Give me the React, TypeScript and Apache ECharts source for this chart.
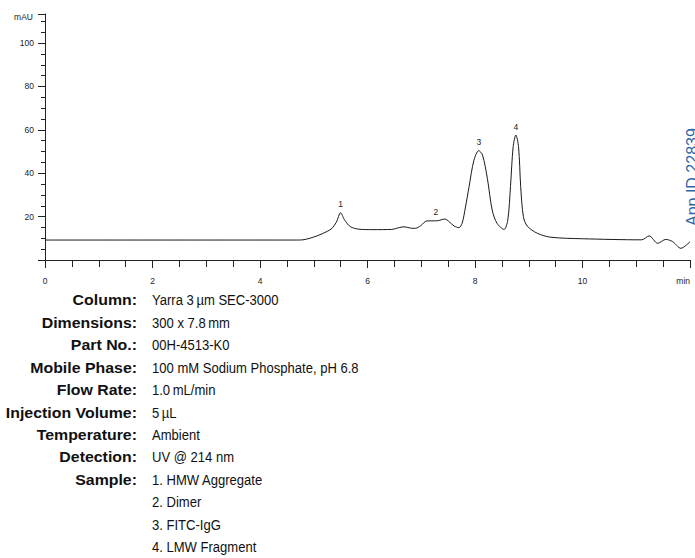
import React, { useEffect, useRef } from "react";
import * as echarts from "echarts";

// Chromatogram trace (retention time in min, absorbance in mAU)
const retentionTimes = [
  0, 4.7, 4.8, 5.06, 5.25, 5.34, 5.42, 5.5, 5.57, 5.68, 5.84, 6.1, 6.45, 6.6, 6.68, 6.8, 6.89, 6.99,
  7.1, 7.3, 7.44, 7.52, 7.61, 7.7, 7.76, 7.82, 7.89, 7.98, 8.07, 8.14, 8.23, 8.32, 8.41, 8.54, 8.61,
  8.66, 8.71, 8.76, 8.81, 8.85, 8.9, 8.97, 9.16, 9.41, 10.0, 11.1, 11.24, 11.4, 11.55, 11.68, 11.83, 12.0,
];
const absorbance = [
  9.2, 9.2, 9.3, 11.1, 13.2, 14.6, 17.4, 21.8, 18.6, 15.4, 14.2, 14.0, 14.1, 15.0, 15.3, 14.7, 14.6, 15.8,
  18.0, 18.1, 18.9, 17.6, 15.7, 14.9, 16.9, 24.0, 33.8, 46.0, 50.4, 48.4, 37.6, 23.0, 16.9, 14.1, 18.4,
  33.8, 52.2, 57.6, 52.2, 33.8, 20.0, 15.7, 12.3, 10.5, 9.8, 9.3, 11.1, 7.7, 9.5, 8.4, 5.4, 8.4,
];

// Peak annotations
const peakNames = ["1", "2", "3", "4"];
const peakTimes = [5.5, 7.27, 8.07, 8.76];
const peakHeights = [21.8, 18.3, 50.4, 57.6];

// Axis ticks
const xTickValues = [0, 2, 4, 6, 8, 10, 12];
const xTickLabels = ["0", "2", "4", "6", "8", "10", "min"];
const yTickValues = [20, 40, 60, 80, 100];
const yUnit = "mAU";
const appId = "App ID 22839";

// Conditions
const conditionLabels = [
  "Column:",
  "Dimensions:",
  "Part No.:",
  "Mobile Phase:",
  "Flow Rate:",
  "Injection Volume:",
  "Temperature:",
  "Detection:",
  "Sample:",
];
const conditionValues = [
  "Yarra 3\u2009µm SEC-3000",
  "300 x 7.8\u2009mm",
  "00H-4513-K0",
  "100 mM Sodium Phosphate, pH 6.8",
  "1.0\u2009mL/min",
  "5\u2009µL",
  "Ambient",
  "UV @ 214 nm",
  "1. HMW Aggregate",
];
const sampleExtras = ["2. Dimer", "3. FITC-IgG", "4. LMW Fragment"];

const FONT = "'Liberation Sans', Arial, Helvetica, sans-serif";

export default function App() {
  const ref = useRef<HTMLDivElement>(null);

  useEffect(() => {
    if (!ref.current) return;
    const chart = echarts.init(ref.current, undefined, { renderer: "svg" });

    const rowTop = 300;
    const rowGap = 22.45;
    const labelRight = 137;
    const valueLeft = 152;
    const graphics: any[] = [];

    conditionLabels.forEach((lab, i) => {
      graphics.push({
        type: "text",
        x: labelRight,
        y: rowTop + i * rowGap,
        scaleX: 1.06,
        style: {
          text: lab,
          fontFamily: FONT,
          fontWeight: "bold",
          fontSize: 15,
          fill: "#111",
          align: "right",
          verticalAlign: "middle",
        },
      });
    });
    const allValues = conditionValues.concat(sampleExtras);
    allValues.forEach((val, i) => {
      graphics.push({
        type: "text",
        x: valueLeft,
        y: rowTop + i * rowGap,
        scaleX: 0.87,
        style: {
          text: val,
          fontFamily: FONT,
          fontSize: 15,
          fill: "#111",
          align: "left",
          verticalAlign: "middle",
        },
      });
    });
    graphics.push({
      type: "text",
      x: 33,
      y: 17,
      style: {
        text: yUnit,
        fontFamily: FONT,
        fontSize: 8.5,
        fill: "#222",
        align: "right",
        verticalAlign: "middle",
      },
    });
    graphics.push({
      type: "text",
      x: 692,
      y: 226,
      rotation: Math.PI / 2,
      style: {
        text: appId,
        fontFamily: FONT,
        fontSize: 16,
        fill: "#2e67a3",
        align: "left",
        verticalAlign: "middle",
      },
    });

    chart.setOption({
      animation: false,
      backgroundColor: "#ffffff",
      textStyle: { fontFamily: FONT },
      grid: { left: 45, right: 5, top: 14, bottom: 298, containLabel: false },
      xAxis: {
        type: "value",
        min: 0,
        max: 12,
        interval: 2,
        axisLine: { show: true, lineStyle: { color: "#222", width: 1 } },
        axisTick: { show: true, length: 8, lineStyle: { color: "#222", width: 1 } },
        minorTick: { show: true, splitNumber: 4, length: 7, lineStyle: { color: "#222", width: 1 } },
        splitLine: { show: false },
        minorSplitLine: { show: false },
        axisLabel: {
          margin: 16,
          fontSize: 8.5,
          color: "#222",
          alignMaxLabel: "right",
          formatter: (v: number) => {
            const i = xTickValues.indexOf(v);
            return i >= 0 ? xTickLabels[i] : "";
          },
        },
      },
      yAxis: {
        type: "value",
        min: 0,
        max: 113.4,
        interval: 20,
        axisLine: { show: true, onZero: false, lineStyle: { color: "#222", width: 1 } },
        axisTick: { show: true, length: 7, lineStyle: { color: "#222", width: 1 } },
        minorTick: { show: true, splitNumber: 4, length: 4, lineStyle: { color: "#222", width: 1 } },
        splitLine: { show: false },
        minorSplitLine: { show: false },
        axisLabel: {
          margin: 11,
          fontSize: 8.5,
          color: "#222",
          showMaxLabel: false,
          formatter: (v: number) => (yTickValues.indexOf(v) >= 0 ? String(v) : ""),
        },
      },
      series: [
        {
          type: "line",
          data: retentionTimes.map((t, i) => [t, absorbance[i]]),
          symbol: "none",
          showSymbol: false,
          smooth: 0.3,
          lineStyle: { color: "#1a1a1a", width: 1 },
          silent: true,
          markPoint: {
            symbol: "circle",
            symbolSize: 0,
            silent: true,
            label: {
              show: true,
              position: "top",
              distance: 4,
              fontSize: 8.5,
              color: "#222",
              formatter: "{b}",
            },
            data: peakNames.map((n, i) => ({ name: n, coord: [peakTimes[i], peakHeights[i]] })),
          },
        },
      ],
      graphic: graphics,
    });

    return () => chart.dispose();
  }, []);

  return (
    <div
      ref={ref}
      style={{ position: "absolute", left: 0, top: 0, width: 695, height: 558, background: "#fff" }}
    />
  );
}
